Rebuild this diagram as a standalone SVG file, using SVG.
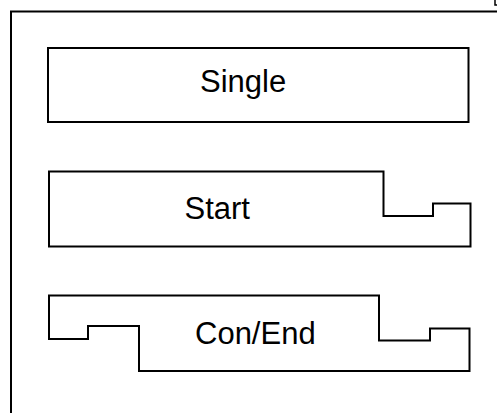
<svg xmlns="http://www.w3.org/2000/svg" width="497" height="413" viewBox="0 0 497 413">
<style>
.s{fill:#fff;stroke:#000;stroke-width:2;stroke-linejoin:miter}
.t{font-family:"Liberation Sans",Arial,sans-serif;font-size:31px;fill:#000}
</style>
<rect width="497" height="413" fill="#fff"/>
<g id="frame">
<path class="s" d="M11 420 V11.5 H510" fill="none"/>
<path d="M495 0 V5 H500" fill="none" stroke="#000" stroke-width="1.5"/>
</g>
<g id="single">
<rect class="s" x="48" y="48" width="420.5" height="74"/>
<text class="t" x="200" y="92">Single</text>
</g>
<g id="start">
<path class="s" d="M49 171.5 H383.5 V216 H433 V203.5 H470.5 V246.5 H49 Z"/>
<text class="t" x="184.5" y="219">Start</text>
</g>
<g id="conend">
<path class="s" d="M49 295.5 H379 V340.5 H430 V328.5 H469.5 V371 H139 V326 H88 V339 H49 Z"/>
<text class="t" x="195" y="344">Con/End</text>
</g>
</svg>
